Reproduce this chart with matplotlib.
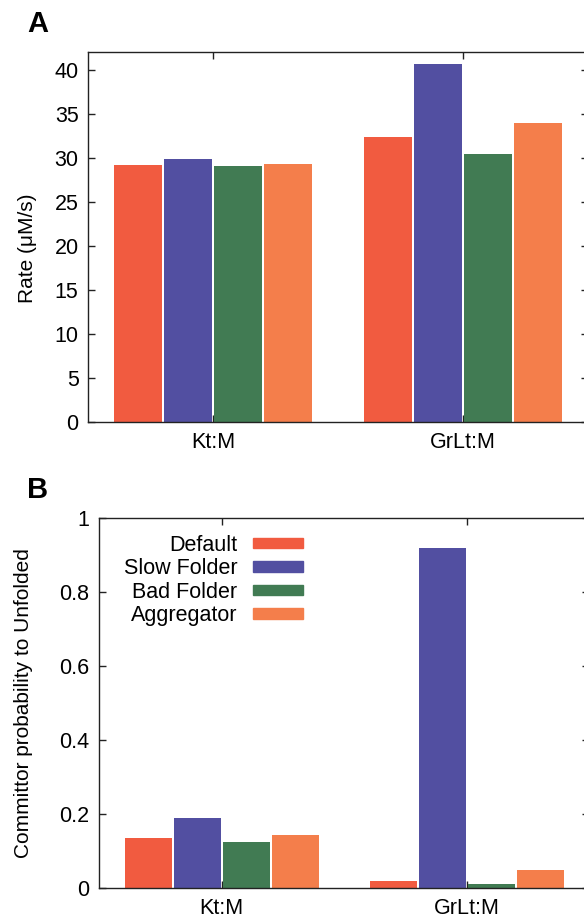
import matplotlib
matplotlib.use('Agg')
import matplotlib.pyplot as plt
import numpy as np
from matplotlib.patches import Patch


categories = ['Kt:M', 'GrLt:M']
series = ['Default', 'Slow Folder', 'Bad Folder', 'Aggregator']
colors = ['#F15B40', '#524FA1', '#417B53', '#F47E4B']

# panel A: rate (uM/s)
rate_default = [29.2, 32.4]
rate_slow = [29.9, 40.6]
rate_bad = [29.1, 30.45]
rate_agg = [29.3, 33.9]

# panel B: committor probability to unfolded
commit_default = [0.135, 0.018]
commit_slow = [0.19, 0.92]
commit_bad = [0.123, 0.010]
commit_agg = [0.143, 0.05]

A_TICKS = [0, 5, 10, 15, 20, 25, 30, 35, 40]
B_TICKS = [0, 0.2, 0.4, 0.6, 0.8, 1.0]
B_TICKLABELS = ['0', '0.2', '0.4', '0.6', '0.8', '1']

FS = 15.5
W, H = 584, 917

plt.rcParams['font.family'] = ['Liberation Sans', 'DejaVu Sans']
plt.rcParams['font.size'] = FS


def style_axes(ax):
    for s in ax.spines.values():
        s.set_linewidth(1.0)
        s.set_color('#222222')
    ax.tick_params(direction='in', length=5, width=1.0, pad=7,
                   top=True, right=True, labelsize=FS, color='#222222')
    ax.set_axisbelow(True)


def draw_bars(ax, values):
    x = np.arange(len(categories))
    offsets = [-0.3, -0.1, 0.1, 0.3]
    for vals, off, c in zip(values, offsets, colors):
        ax.bar(x + off, vals, width=0.192, color=c, linewidth=0)
    ax.set_xticks(x)
    ax.set_xticklabels(categories)
    ax.set_xlim(-0.5, 1.5)


fig = plt.figure(figsize=(W / 100, H / 100), dpi=100)

axA = fig.add_axes([88.3 / W, 1 - 422 / H, 500 / W, 370 / H])
draw_bars(axA, [rate_default, rate_slow, rate_bad, rate_agg])
axA.set_ylim(0, 42)
axA.set_yticks(A_TICKS)
axA.set_ylabel('Rate (\u03bcM/s)', fontsize=FS - 0.5)
axA.yaxis.set_label_coords((37 - 88.3) / 500, 0.47)
style_axes(axA)

axB = fig.add_axes([99.3 / W, 1 - 888 / H, 490 / W, 370 / H])
draw_bars(axB, [commit_default, commit_slow, commit_bad, commit_agg])
axB.set_ylim(0, 1.0)
axB.set_yticks(B_TICKS)
axB.set_yticklabels(B_TICKLABELS)
axB.set_ylabel('Committor probability to Unfolded', fontsize=FS - 0.5)
axB.yaxis.set_label_coords((33 - 99.3) / 490, 0.5)
style_axes(axB)

handles = [Patch(color=c, label=s) for c, s in zip(colors, series)]
axB.legend(handles=handles, loc='upper right', bbox_to_anchor=(0.416, 0.955),
           frameon=False, markerfirst=False, handlelength=2.35,
           handleheight=0.37, handletextpad=0.7, labelspacing=0.12,
           borderpad=0, borderaxespad=0, fontsize=FS)

fig.text(27 / W, 1 - 32 / H, 'A', fontsize=21, fontweight='bold', va='baseline')
fig.text(27 / W, 1 - 498 / H, 'B', fontsize=21, fontweight='bold', va='baseline')

fig.savefig('out.png', dpi=100)
